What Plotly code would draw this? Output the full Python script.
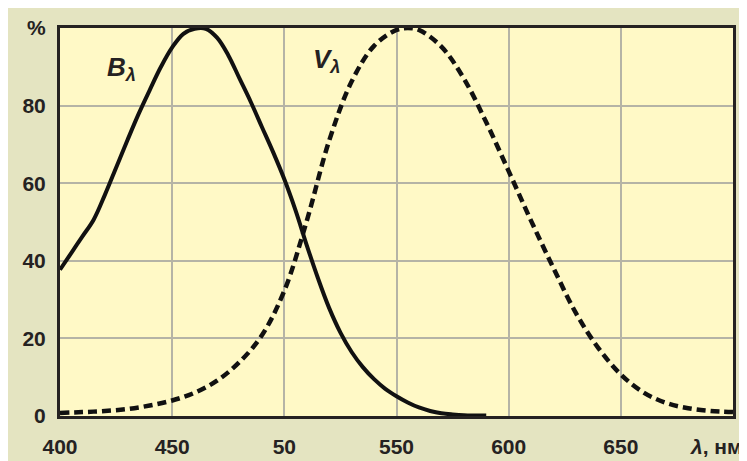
import plotly.graph_objects as go

# --- data ---
b_wavelength = [400, 405, 410, 415, 420, 425, 430, 435, 440, 445, 450, 455, 460, 465,
                470, 475, 480, 485, 490, 495, 500, 505, 510, 515, 520, 525, 530, 535,
                540, 545, 550, 555, 560, 565, 570, 575, 580, 590]
b_values = [37.7, 42, 46.3, 50.6, 57, 64, 71, 77.8, 84, 90, 95, 98.5, 99.8, 99.8,
            97.5, 93, 87, 81, 74.5, 68, 61, 53, 44, 35.5, 27.8, 21.5, 16.5, 12.6,
            9.5, 7, 5.1, 3.5, 2.2, 1.3, 0.7, 0.4, 0.2, 0.1]

v_wavelength = [400, 410, 420, 430, 440, 450, 460, 470, 480, 490, 500, 510, 520, 530,
                540, 550, 555, 560, 570, 580, 590, 600, 610, 620, 630, 640, 650, 660,
                670, 680, 690, 700]
v_values = [0.8, 1.0, 1.3, 1.8, 2.7, 4.0, 6.0, 9.1, 13.9, 20.8, 32.3, 50.3, 71, 86.2,
            95.4, 99.5, 100, 99.5, 95.2, 87, 75.7, 63.1, 50.3, 38.1, 26.5, 17.5, 10.7, 6.1,
            3.4, 2.0, 1.3, 1.0]

x_tickvals = [400, 450, 500, 550, 600, 650]
x_ticktext = ["400", "450", "50", "550", "600", "650"]
y_tickvals = [0, 20, 40, 60, 80, 100]
y_ticktext = ["0", "20", "40", "60", "80", "%"]

FONT = "Liberation Sans, Arial, sans-serif"
INK = "#252222"
GRID = "#b5b4a6"

fig = go.Figure()
fig.add_trace(go.Scatter(x=v_wavelength, y=v_values, mode="lines",
                         line=dict(color="#111111", width=4.5, dash="9px,5px", shape="spline"),
                         showlegend=False, hoverinfo="skip"))
fig.add_trace(go.Scatter(x=b_wavelength, y=b_values, mode="lines",
                         line=dict(color="#111111", width=4, shape="spline"),
                         showlegend=False, hoverinfo="skip"))

W, H = 747, 461
L, R, T, B = 52, 22, 20, 52.5
pw, ph = W - L - R, H - T - B

fig.update_layout(
    width=W, height=H,
    margin=dict(l=L, r=R, t=T, b=B, pad=0),
    paper_bgcolor="#e4e4c1",
    plot_bgcolor="#fff9c6",
    font=dict(family=FONT, size=21, color=INK, weight="bold"),
    xaxis=dict(range=[400, 700], tickvals=x_tickvals, ticktext=x_ticktext,
               showgrid=True, gridcolor=GRID, gridwidth=1.5,
               showline=True, linecolor=INK, linewidth=3, mirror=True,
               ticks="outside", ticklen=10, tickcolor="rgba(0,0,0,0)",
               zeroline=False, fixedrange=True, automargin=False),
    yaxis=dict(range=[0, 100], tickvals=y_tickvals, ticktext=y_ticktext,
               showgrid=True, gridcolor=GRID, gridwidth=1.5,
               showline=True, linecolor=INK, linewidth=3, mirror=True,
               ticks="outside", ticklen=7, tickcolor="rgba(0,0,0,0)",
               zeroline=False, fixedrange=True, automargin=False),
    annotations=[
        dict(text="<b><i>B<sub>λ</sub></i></b>", x=420, y=89.5, xref="x", yref="y",
             xanchor="left", yanchor="middle", showarrow=False,
             font=dict(family=FONT, size=26, color=INK)),
        dict(text="<b><i>V<sub>λ</sub></i></b>", x=512, y=91.5, xref="x", yref="y",
             xanchor="left", yanchor="middle", showarrow=False,
             font=dict(family=FONT, size=26, color=INK)),
        dict(text="<i>λ</i>, нм", x=(737 - L) / pw, y=((H - B) - 439.5) / ph,
             xref="paper", yref="paper", xanchor="right", yanchor="middle", showarrow=False,
             font=dict(family=FONT, size=21, color=INK, weight="bold")),
    ],
)

fig.write_html("out.html")
